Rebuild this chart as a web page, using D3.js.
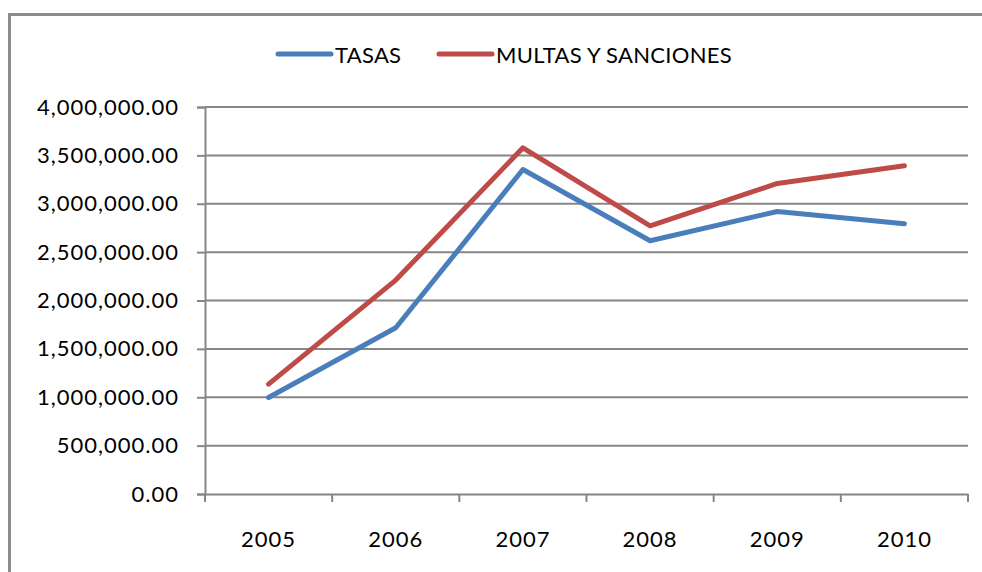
<!DOCTYPE html>
<html>
<head>
<meta charset="utf-8">
<script src="https://cdn.jsdelivr.net/npm/d3@7"></script>
<style>
  body { margin: 0; background: #fff; }
  svg text { font-family: Lato, "Open Sans", sans-serif; fill: #000; }
</style>
</head>
<body>
<div id="chart"></div>
<script>
// chart data
const years = ["2005", "2006", "2007", "2008", "2009", "2010"];
const tasas = [997000, 1718000, 3354000, 2617000, 2920000, 2793000];
const multas = [1136000, 2211000, 3578000, 2772000, 3210000, 3392000];
const yTicks = [0, 500000, 1000000, 1500000, 2000000, 2500000, 3000000, 3500000, 4000000];
const seriesNames = ["TASAS", "MULTAS Y SANCIONES"];

const width = 982, height = 572;
const margin = {top: 107, right: 14, bottom: 78, left: 205};

const svg = d3.select("#chart").append("svg")
    .attr("width", width)
    .attr("height", height);

// outer chart border
svg.append("rect")
    .attr("x", 9.5).attr("y", 14.5)
    .attr("width", 1000).attr("height", 600)
    .attr("fill", "none")
    .attr("stroke", "#8c8c8c")
    .attr("stroke-width", 3);

const x = d3.scaleBand()
    .domain(years)
    .range([margin.left, width - margin.right]);

const y = d3.scaleLinear()
    .domain([0, 4000000])
    .range([height - margin.bottom, margin.top]);

// gridlines
svg.append("g")
    .selectAll("line")
    .data(yTicks.slice(1))
    .enter()
    .append("line")
    .attr("x1", margin.left).attr("x2", width - margin.right)
    .attr("y1", d => y(d)).attr("y2", d => y(d))
    .attr("stroke", "#868686")
    .attr("stroke-width", 2);

const fmt = d3.format(",.2f");

const yAxis = svg.append("g")
    .attr("transform", `translate(${margin.left},0)`)
    .call(d3.axisLeft(y).tickValues(yTicks).tickFormat(fmt).tickSize(8).tickPadding(18));

const xAxis = svg.append("g")
    .attr("transform", `translate(0,${height - margin.bottom})`)
    .call(d3.axisBottom(x).tickSize(0).tickPadding(37));

// category boundary ticks on x axis
const bounds = years.map(d => x(d)).concat([x(years[years.length - 1]) + x.bandwidth()]);
xAxis.selectAll(".bound")
    .data(bounds)
    .enter()
    .append("line")
    .attr("class", "bound")
    .attr("x1", d => d).attr("x2", d => d)
    .attr("y1", 0).attr("y2", 8)
    .attr("stroke", "#868686")
    .attr("stroke-width", 2);

[yAxis, xAxis].forEach(g => {
    g.selectAll(".domain").attr("stroke", "#868686").attr("stroke-width", 2);
    g.selectAll(".tick line").attr("stroke", "#868686").attr("stroke-width", 2);
    g.selectAll("text")
        .style("font-size", "22px")
        .style("letter-spacing", "1px")
        .attr("fill", "#000");
});

const line = d3.line()
    .x((d, i) => x(years[i]) + x.bandwidth() / 2)
    .y(d => y(d));

const colors = ["#4a7ebb", "#be4b48"];
[tasas, multas].forEach((s, i) => {
    svg.append("path")
        .datum(s)
        .attr("fill", "none")
        .attr("stroke", colors[i])
        .attr("stroke-width", 5)
        .attr("stroke-linejoin", "round")
        .attr("stroke-linecap", "round")
        .attr("d", line);
});

// legend
const legendX = [278, 439];
const legend = svg.append("g");
seriesNames.forEach((name, i) => {
    legend.append("line")
        .attr("x1", legendX[i]).attr("x2", legendX[i] + 53)
        .attr("y1", 54).attr("y2", 54)
        .attr("stroke", colors[i])
        .attr("stroke-width", 5)
        .attr("stroke-linecap", "round");
    legend.append("text")
        .attr("x", legendX[i] + 57)
        .attr("y", 55)
        .attr("dy", "0.35em")
        .style("font-size", "22px")
        .style("letter-spacing", "0.3px")
        .text(name);
});
</script>
</body>
</html>
